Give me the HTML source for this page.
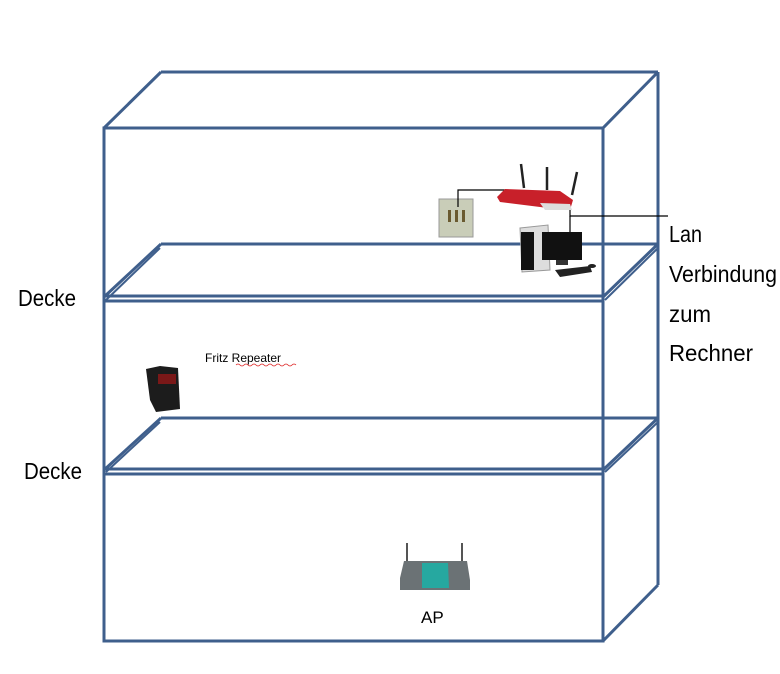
<!DOCTYPE html>
<html><head><meta charset="utf-8"><style>
html,body{margin:0;padding:0;background:#fff;width:780px;height:674px;overflow:hidden}
</style></head><body>
<svg width="780" height="674" viewBox="0 0 780 674" xmlns="http://www.w3.org/2000/svg">
<g stroke="#3f5f8c" stroke-width="3" fill="none">
<!-- outer box -->
<rect x="104" y="128" width="499" height="513"/>
<line x1="161" y1="72" x2="658" y2="72"/>
<line x1="104" y1="128" x2="161" y2="72"/>
<line x1="603" y1="128" x2="658" y2="72"/>
<line x1="658" y1="72" x2="658" y2="585"/>
<line x1="603" y1="641" x2="658" y2="585"/>
<!-- floor 1 -->
<line x1="161" y1="244" x2="658" y2="244"/>
<line x1="104" y1="297" x2="161" y2="244"/>
<line x1="603" y1="297" x2="658" y2="244"/>
<line x1="104" y1="296" x2="603" y2="296"/>
<line x1="104" y1="301" x2="603" y2="301"/>
<line x1="106" y1="300" x2="160" y2="248" stroke-width="2"/>
<line x1="605" y1="300" x2="658" y2="248" stroke-width="2"/>
<!-- floor 2 -->
<line x1="161" y1="418" x2="658" y2="418"/>
<line x1="104" y1="470" x2="161" y2="418"/>
<line x1="603" y1="470" x2="658" y2="418"/>
<line x1="104" y1="469" x2="603" y2="469"/>
<line x1="104" y1="474" x2="603" y2="474"/>
<line x1="106" y1="472" x2="160" y2="422" stroke-width="2"/>
<line x1="605" y1="472" x2="658" y2="422" stroke-width="2"/>
</g>
<!-- phone socket -->
<rect x="439" y="199" width="34" height="38" fill="#c9cdb8" stroke="#999" stroke-width="1"/>
<rect x="448" y="210" width="3" height="12" fill="#6a5a30"/>
<rect x="455" y="210" width="3" height="12" fill="#6a5a30"/>
<rect x="462" y="210" width="3" height="12" fill="#6a5a30"/>
<!-- cables -->
<polyline points="458,207 458,190 505,190" fill="none" stroke="#000" stroke-width="1.2"/>
<polyline points="570,203 570,216 668,216" fill="none" stroke="#000" stroke-width="1.2"/>
<line x1="570" y1="216" x2="570" y2="232" stroke="#000" stroke-width="1.2"/>
<!-- router -->
<line x1="521" y1="164" x2="524" y2="188" stroke="#222" stroke-width="2.5"/>
<line x1="547" y1="167" x2="547" y2="190" stroke="#222" stroke-width="2.5"/>
<line x1="577" y1="172" x2="572" y2="195" stroke="#222" stroke-width="2.5"/>
<polygon points="497,197 505,189 560,191 573,200 570,210 556,209 500,202" fill="#c8202a"/>
<polygon points="540,203 570,204 572,210 545,210" fill="#ddd"/>
<!-- PC -->
<polygon points="520,228 548,225 550,270 522,272" fill="#ddd" stroke="#999" stroke-width="1"/>
<rect x="521" y="232" width="13" height="38" fill="#111"/>
<rect x="542" y="232" width="40" height="28" fill="#111"/>
<rect x="556" y="260" width="12" height="5" fill="#333"/>
<polygon points="555,270 590,266 592,272 560,277" fill="#222"/>
<ellipse cx="592" cy="266" rx="4" ry="2" fill="#222"/>
<!-- repeater -->
<polygon points="146,369 160,366 178,368 180,409 156,412 150,400" fill="#1c1c1c"/>
<rect x="158" y="374" width="18" height="10" fill="#7a1818"/>
<!-- AP -->
<line x1="407" y1="543" x2="407" y2="562" stroke="#555" stroke-width="2"/>
<line x1="462" y1="543" x2="462" y2="562" stroke="#555" stroke-width="2"/>
<polygon points="404,561 467,561 470,580 470,590 400,590 400,578" fill="#6b7275"/>
<polygon points="422,563 448,563 449,588 422,588" fill="#26a8a0"/>
<g font-family="Liberation Sans, sans-serif" fill="#000">
<text x="18" y="306" font-size="23" textLength="58" lengthAdjust="spacingAndGlyphs">Decke</text>
<text x="24" y="479" font-size="23" textLength="58" lengthAdjust="spacingAndGlyphs">Decke</text>
<text x="669" y="242" font-size="23" textLength="33" lengthAdjust="spacingAndGlyphs">Lan</text>
<text x="669" y="282" font-size="23" textLength="108" lengthAdjust="spacingAndGlyphs">Verbindung</text>
<text x="669" y="322" font-size="23" textLength="42" lengthAdjust="spacingAndGlyphs">zum</text>
<text x="669" y="361" font-size="23" textLength="84" lengthAdjust="spacingAndGlyphs">Rechner</text>
<text x="205" y="362" font-size="12">Fritz Repeater</text>
<text x="421" y="623" font-size="17">AP</text>
</g>
<path d="M236,365 q2,-2 4,0 t4,0 t4,0 t4,0 t4,0 t4,0 t4,0 t4,0 t4,0 t4,0 t4,0 t4,0 t4,0 t4,0 t4,0" stroke="#d22" stroke-width="0.8" fill="none"/>
</svg>
</body></html>
